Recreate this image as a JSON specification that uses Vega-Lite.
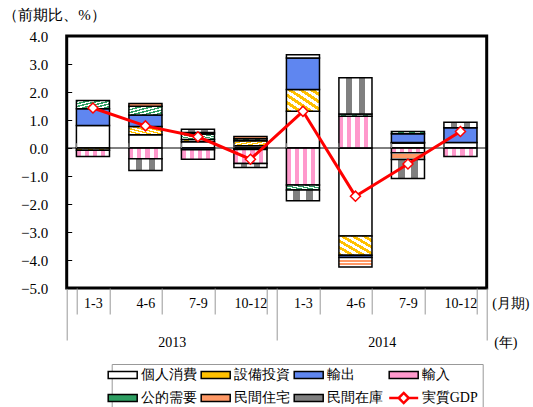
{
  "$schema": "https://vega.github.io/schema/vega-lite/v6.json",
  "width": 420,
  "height": 252,
  "autosize": {"type": "none"},
  "padding": {"left": 66.7, "top": 36, "right": 46.3, "bottom": 119},
  "config": {
    "view": {"stroke": "black", "strokeWidth": 3},
    "font": "Liberation Serif",
    "axis": {"labelColor": "black", "titleColor": "black", "labelFontSize": 14, "titleFontSize": 14, "titleFontWeight": "normal", "grid": false, "domain": false, "labelFont": "Liberation Serif", "titleFont": "Liberation Serif"},
    "axisY": {"labelOverlap": false},
    "legend": {"labelFont": "Liberation Serif", "labelFontSize": 14, "labelColor": "black"}
  },
  "resolve": {"scale": {"x": "independent"}, "axis": {"x": "independent"}},
  "layer": [
    {
      "layer": [
        {
          "data": {"values": [
            {"k": "2013|1-3", "s": "個人消費", "v": 0.8},
            {"k": "2013|1-3", "s": "設備投資", "v": -0.08},
            {"k": "2013|1-3", "s": "輸出", "v": 0.6},
            {"k": "2013|1-3", "s": "輸入", "v": -0.22},
            {"k": "2013|1-3", "s": "公的需要", "v": 0.3},
            {"k": "2013|4-6", "s": "個人消費", "v": 0.47},
            {"k": "2013|4-6", "s": "設備投資", "v": 0.3},
            {"k": "2013|4-6", "s": "輸出", "v": 0.41},
            {"k": "2013|4-6", "s": "輸入", "v": -0.38},
            {"k": "2013|4-6", "s": "公的需要", "v": 0.31},
            {"k": "2013|4-6", "s": "民間住宅", "v": 0.1},
            {"k": "2013|4-6", "s": "民間在庫", "v": -0.42},
            {"k": "2013|7-9", "s": "個人消費", "v": 0.22},
            {"k": "2013|7-9", "s": "設備投資", "v": 0.08},
            {"k": "2013|7-9", "s": "輸出", "v": -0.06},
            {"k": "2013|7-9", "s": "輸入", "v": -0.34},
            {"k": "2013|7-9", "s": "公的需要", "v": 0.2},
            {"k": "2013|7-9", "s": "民間住宅", "v": 0.05},
            {"k": "2013|7-9", "s": "民間在庫", "v": 0.12},
            {"k": "2013|10-12", "s": "個人消費", "v": 0.08},
            {"k": "2013|10-12", "s": "設備投資", "v": 0.18},
            {"k": "2013|10-12", "s": "輸出", "v": -0.05},
            {"k": "2013|10-12", "s": "輸入", "v": -0.5},
            {"k": "2013|10-12", "s": "公的需要", "v": 0.07},
            {"k": "2013|10-12", "s": "民間住宅", "v": 0.08},
            {"k": "2013|10-12", "s": "民間在庫", "v": -0.15},
            {"k": "2014|1-3", "s": "個人消費", "v": 1.31},
            {"k": "2014|1-3", "s": "設備投資", "v": 0.78},
            {"k": "2014|1-3", "s": "輸出", "v": 1.12},
            {"k": "2014|1-3", "s": "輸入", "v": -1.32},
            {"k": "2014|1-3", "s": "公的需要", "v": -0.18},
            {"k": "2014|1-3", "s": "民間住宅", "v": 0.12},
            {"k": "2014|1-3", "s": "民間在庫", "v": -0.38},
            {"k": "2014|4-6", "s": "個人消費", "v": -3.14},
            {"k": "2014|4-6", "s": "設備投資", "v": -0.69},
            {"k": "2014|4-6", "s": "輸出", "v": -0.08},
            {"k": "2014|4-6", "s": "輸入", "v": 1.13},
            {"k": "2014|4-6", "s": "公的需要", "v": 0.08},
            {"k": "2014|4-6", "s": "民間住宅", "v": -0.34},
            {"k": "2014|4-6", "s": "民間在庫", "v": 1.3},
            {"k": "2014|7-9", "s": "個人消費", "v": 0.18},
            {"k": "2014|7-9", "s": "設備投資", "v": 0.02},
            {"k": "2014|7-9", "s": "輸出", "v": 0.31},
            {"k": "2014|7-9", "s": "輸入", "v": -0.17},
            {"k": "2014|7-9", "s": "公的需要", "v": 0.08},
            {"k": "2014|7-9", "s": "民間住宅", "v": -0.24},
            {"k": "2014|7-9", "s": "民間在庫", "v": -0.68},
            {"k": "2014|10-12", "s": "個人消費", "v": 0.2},
            {"k": "2014|10-12", "s": "輸出", "v": 0.52},
            {"k": "2014|10-12", "s": "輸入", "v": -0.3},
            {"k": "2014|10-12", "s": "民間在庫", "v": 0.2}
          ]},
          "transform": [
            {"calculate": "indexof(['個人消費','設備投資','輸出','輸入','公的需要','民間住宅','民間在庫'], datum.s)", "as": "i"}
          ],
          "mark": {"type": "bar", "stroke": "black", "strokeWidth": 1.5},
          "encoding": {
            "x": {
              "field": "k", "type": "nominal", "sort": null,
              "scale": {"paddingInner": 0.37, "paddingOuter": 0.185},
              "axis": {
                "labelExpr": "split(datum.label, '|')[1]",
                "labelAngle": 0,
                "tickBand": "extent", "tickSize": 26, "tickColor": "#999999", "tickWidth": 1,
                "labelPadding": -17.5,
                "title": "(月期)", "titleX": 425, "titleY": 15, "titleAlign": "left", "titleBaseline": "middle", "titleAnchor": "start"
              }
            },
            "y": {
              "field": "v", "type": "quantitative", "stack": "zero",
              "scale": {"domain": [-5, 4], "nice": false},
              "axis": {
                "values": [-5, -4, -3, -2, -1, 0, 1, 2, 3, 4],
                "tickCount": 20,
                "format": ".1f",
                "labelOverlap": false,
                "labelFontSize": 15,
                "tickSize": -5, "tickColor": "black", "tickWidth": 1,
                "labelPadding": 24,
                "title": "（前期比、%）", "titleFontSize": 15, "titleAngle": 0, "titleX": -64, "titleY": -22, "titleAlign": "left", "titleBaseline": "middle"
              }
            },
            "fill": {
              "condition": [
                {"test": "datum.s === '設備投資'", "value": {"gradient": "linear", "x1": 0, "y1": 1, "x2": 1, "y2": 0, "stops": [
                    {"offset": 0, "color": "#ffc000"}, {"offset": 0.083, "color": "#ffc000"}, {"offset": 0.083, "color": "#ffffff"}, {"offset": 0.167, "color": "#ffffff"},
                    {"offset": 0.167, "color": "#ffc000"}, {"offset": 0.25, "color": "#ffc000"}, {"offset": 0.25, "color": "#ffffff"}, {"offset": 0.333, "color": "#ffffff"},
                    {"offset": 0.333, "color": "#ffc000"}, {"offset": 0.417, "color": "#ffc000"}, {"offset": 0.417, "color": "#ffffff"}, {"offset": 0.5, "color": "#ffffff"},
                    {"offset": 0.5, "color": "#ffc000"}, {"offset": 0.583, "color": "#ffc000"}, {"offset": 0.583, "color": "#ffffff"}, {"offset": 0.667, "color": "#ffffff"},
                    {"offset": 0.667, "color": "#ffc000"}, {"offset": 0.75, "color": "#ffc000"}, {"offset": 0.75, "color": "#ffffff"}, {"offset": 0.833, "color": "#ffffff"},
                    {"offset": 0.833, "color": "#ffc000"}, {"offset": 0.917, "color": "#ffc000"}, {"offset": 0.917, "color": "#ffffff"}, {"offset": 1, "color": "#ffffff"}
                  ]}},
                {"test": "datum.s === '輸入'", "value": {"gradient": "linear", "x1": 0, "y1": 0, "x2": 1, "y2": 0, "stops": [
                    {"offset": 0, "color": "#ff99cc"}, {"offset": 0.125, "color": "#ff99cc"}, {"offset": 0.125, "color": "#ffffff"}, {"offset": 0.25, "color": "#ffffff"},
                    {"offset": 0.25, "color": "#ff99cc"}, {"offset": 0.375, "color": "#ff99cc"}, {"offset": 0.375, "color": "#ffffff"}, {"offset": 0.5, "color": "#ffffff"},
                    {"offset": 0.5, "color": "#ff99cc"}, {"offset": 0.625, "color": "#ff99cc"}, {"offset": 0.625, "color": "#ffffff"}, {"offset": 0.75, "color": "#ffffff"},
                    {"offset": 0.75, "color": "#ff99cc"}, {"offset": 0.875, "color": "#ff99cc"}, {"offset": 0.875, "color": "#ffffff"}, {"offset": 1, "color": "#ffffff"}
                  ]}},
                {"test": "datum.s === '公的需要'", "value": {"gradient": "linear", "x1": 0, "y1": 0, "x2": 1, "y2": 1, "stops": [
                    {"offset": 0, "color": "#2e9e62"}, {"offset": 0.083, "color": "#2e9e62"}, {"offset": 0.083, "color": "#ffffff"}, {"offset": 0.167, "color": "#ffffff"},
                    {"offset": 0.167, "color": "#2e9e62"}, {"offset": 0.25, "color": "#2e9e62"}, {"offset": 0.25, "color": "#ffffff"}, {"offset": 0.333, "color": "#ffffff"},
                    {"offset": 0.333, "color": "#2e9e62"}, {"offset": 0.417, "color": "#2e9e62"}, {"offset": 0.417, "color": "#ffffff"}, {"offset": 0.5, "color": "#ffffff"},
                    {"offset": 0.5, "color": "#2e9e62"}, {"offset": 0.583, "color": "#2e9e62"}, {"offset": 0.583, "color": "#ffffff"}, {"offset": 0.667, "color": "#ffffff"},
                    {"offset": 0.667, "color": "#2e9e62"}, {"offset": 0.75, "color": "#2e9e62"}, {"offset": 0.75, "color": "#ffffff"}, {"offset": 0.833, "color": "#ffffff"},
                    {"offset": 0.833, "color": "#2e9e62"}, {"offset": 0.917, "color": "#2e9e62"}, {"offset": 0.917, "color": "#ffffff"}, {"offset": 1, "color": "#ffffff"}
                  ]}},
                {"test": "datum.s === '民間住宅'", "value": {"gradient": "linear", "x1": 0, "y1": 0, "x2": 0, "y2": 1, "stops": [
                    {"offset": 0, "color": "#ffffff"}, {"offset": 0.25, "color": "#ffffff"}, {"offset": 0.25, "color": "#ff9966"}, {"offset": 0.45, "color": "#ff9966"},
                    {"offset": 0.45, "color": "#ffffff"}, {"offset": 0.55, "color": "#ffffff"}, {"offset": 0.55, "color": "#ff9966"}, {"offset": 0.75, "color": "#ff9966"},
                    {"offset": 0.75, "color": "#ffffff"}, {"offset": 1, "color": "#ffffff"}
                  ]}},
                {"test": "datum.s === '民間在庫'", "value": {"gradient": "linear", "x1": 0, "y1": 0, "x2": 1, "y2": 0, "stops": [
                    {"offset": 0, "color": "#ffffff"}, {"offset": 0.2, "color": "#ffffff"}, {"offset": 0.2, "color": "#808080"}, {"offset": 0.4, "color": "#808080"},
                    {"offset": 0.4, "color": "#ffffff"}, {"offset": 0.6, "color": "#ffffff"}, {"offset": 0.6, "color": "#808080"}, {"offset": 0.8, "color": "#808080"},
                    {"offset": 0.8, "color": "#ffffff"}, {"offset": 1, "color": "#ffffff"}
                  ]}}
              ],
              "field": "s", "type": "nominal",
              "scale": {
                "domain": ["個人消費", "設備投資", "輸出", "輸入", "公的需要", "民間住宅", "民間在庫", "実質GDP"],
                "range": ["#ffffff", "#ffc000", "#5f86f0", "#ff99cc", "#2e9e62", "#ff9966", "#808080", "#ffffff"]
              },
              "legend": {
                "title": null, "orient": "none", "legendX": 45, "legendY": 328,
                "columns": 4, "direction": "horizontal",
                "symbolSize": 841, "symbolStrokeColor": "black", "symbolStrokeWidth": 1.5,
                "labelOffset": 11, "columnPadding": 1, "rowPadding": 5, "padding": 4,
                "strokeColor": "#999999", "fillColor": "white", "labelLimit": 200,
                "encode": {"symbols": {"update": {
                  "shape": {"signal": "datum.value === '実質GDP' ? 'M-1,0L-0.35,0M0.35,0L1,0M0,-0.35L0.35,0L0,0.35L-0.35,0Z' : 'M-1,-0.24L1,-0.24L1,0.24L-1,0.24Z'"},
                  "stroke": {"signal": "datum.value === '実質GDP' ? '#ff0000' : '#000000'"},
                  "strokeWidth": {"signal": "datum.value === '実質GDP' ? 2.5 : 1.5"}
                }}}
              }
            },
            "order": {"field": "i", "type": "quantitative"}
          }
        },
        {
          "data": {"values": [{}]},
          "mark": {"type": "rule", "color": "black", "strokeWidth": 1},
          "encoding": {"y": {"datum": 0}}
        },
        {
          "data": {"values": [
            {"k": "2013|1-3", "g": 1.43},
            {"k": "2013|4-6", "g": 0.79},
            {"k": "2013|7-9", "g": 0.4},
            {"k": "2013|10-12", "g": -0.4},
            {"k": "2014|1-3", "g": 1.31},
            {"k": "2014|4-6", "g": -1.72},
            {"k": "2014|7-9", "g": -0.57},
            {"k": "2014|10-12", "g": 0.59}
          ]},
          "layer": [
            {
              "mark": {"type": "rule", "color": "#888888", "strokeWidth": 1},
              "encoding": {
                "x": {"field": "k", "type": "nominal", "sort": null, "bandPosition": 0},
                "y": {"datum": 0},
                "y2": {"datum": 0.17}
              }
            },
            {
              "mark": {"type": "line", "color": "#ff0000", "strokeWidth": 3,
                "point": {"shape": "diamond", "filled": true, "fill": "white", "stroke": "#ff0000", "strokeWidth": 1.5, "size": 100, "opacity": 1}},
              "encoding": {
                "x": {"field": "k", "type": "nominal", "sort": null},
                "y": {"field": "g", "type": "quantitative"}
              }
            }
          ]
        }
      ]
    },
    {
      "data": {"values": [{"year": "2013"}, {"year": "2014"}]},
      "mark": {"type": "bar", "opacity": 0},
      "encoding": {
        "x": {
          "field": "year", "type": "nominal",
          "scale": {"paddingInner": 0, "paddingOuter": 0},
          "axis": {
            "orient": "bottom", "labelAngle": 0,
            "tickBand": "extent", "tickSize": 52, "tickColor": "#999999", "tickWidth": 1,
            "labelPadding": -4.5,
            "title": "(年)", "titleX": 427, "titleY": 54, "titleAlign": "left", "titleBaseline": "middle", "titleAnchor": "start"
          }
        }
      }
    }
  ]
}
